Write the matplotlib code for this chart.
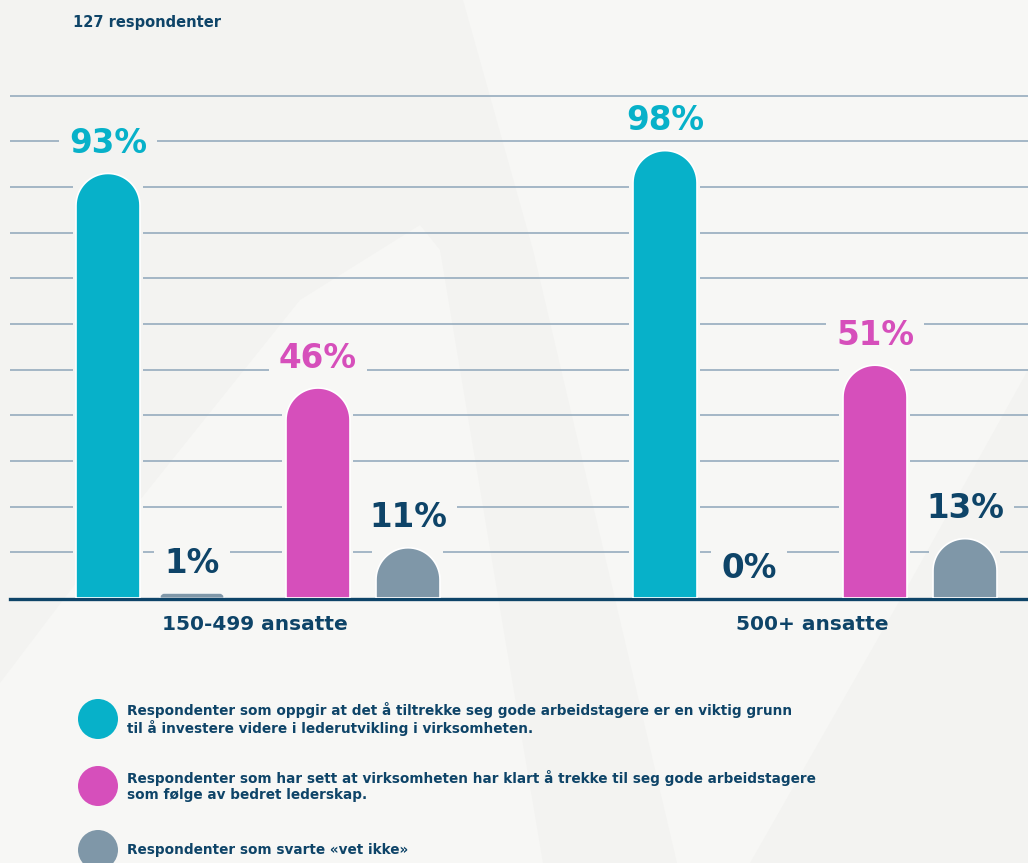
import matplotlib
matplotlib.use("Agg")
import matplotlib.pyplot as plt
import numpy as np
from matplotlib.patches import Polygon, Circle, PathPatch
from matplotlib.path import Path

# Data
groups = ['150-499 ansatte', '500+ ansatte']
attract = [93, 98]        # good employees is a reason to invest
dont_know_1 = [1, 0]      # small grey bar
attracted = [46, 51]      # has managed to attract good employees
dont_know_2 = [11, 13]
legend_labels = [
    'Respondenter som oppgir at det å tiltrekke seg gode arbeidstagere er en viktig grunn\n'
    'til å investere videre i lederutvikling i virksomheten.',
    'Respondenter som har sett at virksomheten har klart å trekke til seg gode arbeidstagere\n'
    'som følge av bedret lederskap.',
    'Respondenter som svarte «vet ikke»',
]
subtitle = '127 respondenter'

TEAL = '#07b1c9'
PINK = '#d64fbb'
GREY = '#7f97a8'
NAVY = '#0e4468'
GRID = '#8ea6b9'
BG = '#f7f7f5'
BG_DARK = '#f3f3f1'

W, H = 1028, 863
plt.rcParams['font.family'] = ['DejaVu Sans']
fig = plt.figure(figsize=(W / 100, H / 100), dpi=100)
fig.patch.set_facecolor(BG)

# faint watermark shapes in the background, in pixel coordinates from top-left
bg_ax = fig.add_axes([0, 0, 1, 1], zorder=-5)
bg_ax.set_xlim(0, W)
bg_ax.set_ylim(H, 0)
bg_ax.axis('off')
shape_a = [(0, 0), (463, 0), (533, 250), (627, 650), (677, 863), (543, 863),
           (507, 650), (440, 250), (420, 225), (300, 300), (140, 500), (63, 600), (0, 683)]
shape_b = [(1028, 370), (900, 600), (750, 863), (1028, 863)]
for pts in (shape_a, shape_b):
    bg_ax.add_patch(Polygon(pts, closed=True, facecolor=BG_DARK, edgecolor='none'))

# chart axes: baseline at 598 px, 1% = 4.565 px
px_per_pct = 4.565
y_top = 115
base_px = 598
ax = fig.add_axes([10 / W, (H - base_px) / H, (W - 10) / W, y_top * px_per_pct / H])
ax.set_xlim(0, W - 10)
ax.set_ylim(0, y_top)
ax.axis('off')
ax.axhline(-0.3, color=NAVY, lw=2.4, zorder=3, clip_on=False)


def rounded_bar(xc, value, width, color):
    """Bar with a round top; corner radius is capped by the bar height."""
    if value <= 0:
        return
    h_px = value * px_per_pct
    r = min(width / 2, h_px)
    ry = r / px_per_pct
    t1 = np.linspace(np.pi, np.pi / 2, 20)
    t2 = np.linspace(np.pi / 2, 0, 20)
    x0, x1 = xc - width / 2, xc + width / 2
    left = [(x0 + r + r * np.cos(t), value - ry + ry * np.sin(t)) for t in t1]
    right = [(x1 - r + r * np.cos(t), value - ry + ry * np.sin(t)) for t in t2]
    verts = [(x0, 0)] + left + right + [(x1, 0), (x0, 0)]
    edge_lw = 1.2 if h_px > 15 else 0.4
    ax.add_patch(PathPatch(Path(verts), facecolor=color, edgecolor='white',
                           lw=edge_lw, zorder=4))


group_starts = [98, 655]
offsets = [0, 84, 210, 300]
bar_w = 64
series = [(attract, TEAL, TEAL), (dont_know_1, GREY, NAVY),
          (attracted, PINK, PINK), (dont_know_2, GREY, NAVY)]

# (x0, x1, y0, y1) ranges where the gridlines are interrupted
gaps = []
labels = []
for g, start in enumerate(group_starts):
    for off, (vals, col, lab_col) in zip(offsets, series):
        xc = start + off
        v = vals[g]
        rounded_bar(xc, v, bar_w, col)
        if v > 0:
            gaps.append((xc - bar_w / 2 - 3.5, xc + bar_w / 2 + 3.5, 0, v))
        t = ax.text(xc, v + 30 / px_per_pct, f'{v}%', ha='center', va='center',
                    fontsize=23.5, fontweight='bold', color=lab_col, zorder=5)
        labels.append(t)
    ax.text(start + 147, -27 / px_per_pct, groups[g], ha='center', va='center',
            fontsize=14.5, fontweight='bold', color=NAVY, clip_on=False)

# measure value labels so the gridlines can stop short of them
fig.canvas.draw()
inv = ax.transData.inverted()
for t in labels:
    bb = t.get_window_extent()
    (x0, y0), (x1, y1) = inv.transform([(bb.x0, bb.y0), (bb.x1, bb.y1)])
    gaps.append((x0 - 10, x1 + 10, y0, y1))

for level in np.arange(10, 111, 10):
    cuts = sorted((a, b) for a, b, lo, hi in gaps if lo <= level <= hi)
    segs, cur = [], 0
    for a, b in cuts:
        if a > cur:
            segs.append((cur, a))
        cur = max(cur, b)
    segs.append((cur, W - 10))
    for a, b in segs:
        if b - a < 6:
            continue
        ax.plot([a, b], [level, level], color=GRID, lw=1.1, zorder=1,
                solid_capstyle='butt')

# subtitle
fig.text(73 / W, 1 - 23 / H, subtitle, ha='left', va='center',
         fontsize=10.5, fontweight='bold', color=NAVY)

# legend
leg_y = [719, 786, 850]
for y, lab, col in zip(leg_y, legend_labels, [TEAL, PINK, GREY]):
    bg_ax.add_patch(Circle((98, y), 20, facecolor=col, edgecolor='none'))
    bg_ax.text(127, y, lab, ha='left', va='center', fontsize=9.8,
               fontweight='bold', color=NAVY, linespacing=1.1)

fig.savefig('out.png', dpi=100, facecolor=BG)
